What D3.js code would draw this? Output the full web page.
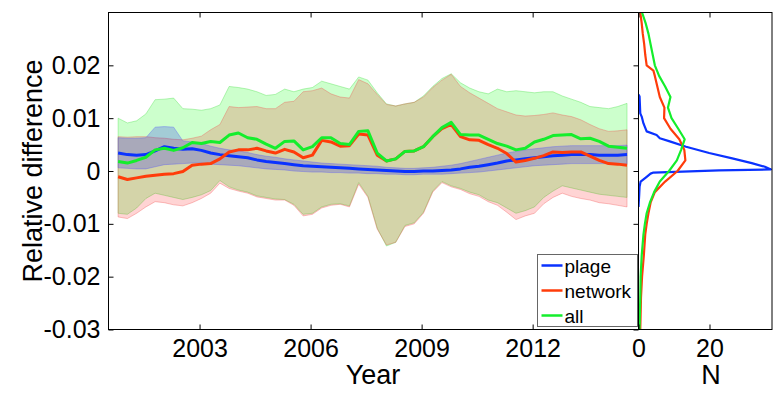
<!DOCTYPE html>
<html>
<head>
<meta charset="utf-8">
<script src="https://cdn.jsdelivr.net/npm/d3@7"></script>
<style>
  body { margin: 0; background: #fff; }
  text { font-family: "Liberation Sans", Arial, sans-serif; fill: #000; }
</style>
</head>
<body>
<svg id="chart" width="784" height="395"></svg>
<script>
// time grid (years) shared by all series in the left panel
const years = [2000.80, 2001.05, 2001.30, 2001.55, 2001.80, 2002.05, 2002.30, 2002.55, 2002.80, 2003.05,
  2003.30, 2003.55, 2003.80, 2004.05, 2004.30, 2004.55, 2004.80, 2005.05, 2005.30, 2005.55,
  2005.80, 2006.05, 2006.30, 2006.55, 2006.80, 2007.05, 2007.30, 2007.55, 2007.80, 2008.05,
  2008.30, 2008.55, 2008.80, 2009.05, 2009.30, 2009.55, 2009.80, 2010.05, 2010.30, 2010.55,
  2010.80, 2011.05, 2011.30, 2011.55, 2011.80, 2012.05, 2012.30, 2012.55, 2012.80, 2013.05,
  2013.30, 2013.55, 2013.80, 2014.05, 2014.30, 2014.55];

const plage = [0.0034, 0.0031, 0.0030, 0.0031, 0.0038, 0.0046, 0.0043, 0.0041, 0.0042, 0.0039,
  0.0034, 0.0031, 0.0029, 0.0027, 0.0025, 0.0021, 0.0018, 0.0016, 0.0014, 0.0012,
  0.0010, 0.0009, 0.0008, 0.0007, 0.0006, 0.0005, 0.0004, 0.0003, 0.0002, 0.0001,
  0.0000, -0.0001, -0.0001, 0.0000, 0.0000, 0.0001, 0.0002, 0.0004, 0.0007, 0.0009,
  0.0012, 0.0015, 0.0019, 0.0021, 0.0023, 0.0025, 0.0027, 0.0029, 0.0030, 0.0031,
  0.0031, 0.0031, 0.0030, 0.0030, 0.0030, 0.0031];
const plageHi = [0.0063, 0.0062, 0.0062, 0.0063, 0.0083, 0.0084, 0.0083, 0.0057, 0.0055, 0.0052,
  0.0047, 0.0043, 0.0040, 0.0038, 0.0035, 0.0031, 0.0028, 0.0026, 0.0023, 0.0021,
  0.0019, 0.0017, 0.0015, 0.0014, 0.0013, 0.0012, 0.0011, 0.0010, 0.0009, 0.0007,
  0.0006, 0.0005, 0.0005, 0.0006, 0.0007, 0.0009, 0.0011, 0.0014, 0.0018, 0.0022,
  0.0026, 0.0030, 0.0034, 0.0037, 0.0040, 0.0042, 0.0044, 0.0046, 0.0047, 0.0048,
  0.0048, 0.0048, 0.0048, 0.0048, 0.0048, 0.0049];
const plageLo = [0.0006, 0.0005, 0.0004, 0.0004, 0.0008, 0.0012, 0.0013, 0.0014, 0.0015, 0.0015,
  0.0013, 0.0012, 0.0011, 0.0010, 0.0008, 0.0006, 0.0004, 0.0003, 0.0002, 0.0000,
  -0.0001, -0.0002, -0.0002, -0.0003, -0.0003, -0.0004, -0.0004, -0.0005, -0.0005, -0.0006,
  -0.0006, -0.0007, -0.0007, -0.0006, -0.0006, -0.0006, -0.0005, -0.0004, -0.0003, -0.0002,
  0.0000, 0.0002, 0.0004, 0.0006, 0.0008, 0.0010, 0.0011, 0.0012, 0.0013, 0.0014,
  0.0014, 0.0014, 0.0014, 0.0014, 0.0014, 0.0014];

const network = [-0.0011, -0.0016, -0.0013, -0.0010, -0.0008, -0.0006, -0.0005, -0.0001, 0.0011, 0.0013,
  0.0014, 0.0023, 0.0036, 0.0040, 0.0040, 0.0043, 0.0038, 0.0034, 0.0041, 0.0036,
  0.0025, 0.0030, 0.0058, 0.0055, 0.0047, 0.0048, 0.0070, 0.0068, 0.0030, 0.0019,
  0.0023, 0.0037, 0.0038, 0.0046, 0.0065, 0.0080, 0.0088, 0.0065, 0.0059, 0.0058,
  0.0050, 0.0043, 0.0033, 0.0017, 0.0020, 0.0024, 0.0029, 0.0036, 0.0035, 0.0036,
  0.0036, 0.0028, 0.0020, 0.0014, 0.0013, 0.0011];
const networkHi = [0.0065, 0.0064, 0.0065, 0.0065, 0.0063, 0.0062, 0.0060, 0.0059, 0.0062, 0.0066,
  0.0078, 0.0088, 0.0122, 0.0120, 0.0121, 0.0122, 0.0118, 0.0118, 0.0130, 0.0132,
  0.0150, 0.0152, 0.0157, 0.0146, 0.0140, 0.0138, 0.0173, 0.0165, 0.0145, 0.0126,
  0.0123, 0.0127, 0.0130, 0.0140, 0.0158, 0.0172, 0.0183, 0.0160, 0.0148, 0.0138,
  0.0128, 0.0118, 0.0112, 0.0106, 0.0104, 0.0105, 0.0107, 0.0110, 0.0106, 0.0103,
  0.0097, 0.0088, 0.0080, 0.0075, 0.0076, 0.0078];
const networkLo = [-0.0087, -0.0090, -0.0080, -0.0068, -0.0058, -0.0060, -0.0064, -0.0066, -0.0060, -0.0052,
  -0.0042, -0.0023, -0.0033, -0.0038, -0.0042, -0.0049, -0.0052, -0.0055, -0.0055, -0.0065,
  -0.0085, -0.0082, -0.0070, -0.0065, -0.0063, -0.0068, -0.0025, -0.0050, -0.0110, -0.0140,
  -0.0135, -0.0105, -0.0100, -0.0080, -0.0040, -0.0022, -0.0030, -0.0035, -0.0043, -0.0048,
  -0.0058, -0.0065, -0.0078, -0.0092, -0.0085, -0.0080, -0.0062, -0.0050, -0.0042, -0.0048,
  -0.0052, -0.0055, -0.0060, -0.0062, -0.0065, -0.0068];

const all = [0.0018, 0.0015, 0.0020, 0.0026, 0.0040, 0.0043, 0.0039, 0.0044, 0.0054, 0.0052,
  0.0056, 0.0054, 0.0068, 0.0072, 0.0063, 0.0060, 0.0051, 0.0043, 0.0056, 0.0057,
  0.0040, 0.0046, 0.0063, 0.0063, 0.0052, 0.0050, 0.0075, 0.0076, 0.0034, 0.0019,
  0.0023, 0.0037, 0.0038, 0.0046, 0.0065, 0.0082, 0.0092, 0.0069, 0.0068, 0.0068,
  0.0060, 0.0052, 0.0047, 0.0040, 0.0043, 0.0055, 0.0060, 0.0067, 0.0068, 0.0069,
  0.0061, 0.0062, 0.0056, 0.0047, 0.0045, 0.0043];
const allHi = [0.0100, 0.0091, 0.0095, 0.0108, 0.0135, 0.0136, 0.0138, 0.0118, 0.0117, 0.0115,
  0.0118, 0.0125, 0.0160, 0.0158, 0.0155, 0.0150, 0.0143, 0.0145, 0.0155, 0.0150,
  0.0155, 0.0158, 0.0170, 0.0165, 0.0160, 0.0155, 0.0178, 0.0172, 0.0148, 0.0127,
  0.0123, 0.0127, 0.0130, 0.0142, 0.0160, 0.0175, 0.0184, 0.0167, 0.0157, 0.0150,
  0.0146, 0.0155, 0.0150, 0.0152, 0.0150, 0.0148, 0.0150, 0.0150, 0.0142, 0.0136,
  0.0130, 0.0122, 0.0120, 0.0118, 0.0122, 0.0128];
const allLo = [-0.0080, -0.0082, -0.0070, -0.0052, -0.0042, -0.0046, -0.0050, -0.0054, -0.0050, -0.0045,
  -0.0037, -0.0018, -0.0030, -0.0036, -0.0040, -0.0047, -0.0050, -0.0053, -0.0054, -0.0063,
  -0.0082, -0.0080, -0.0068, -0.0063, -0.0062, -0.0066, -0.0022, -0.0048, -0.0108, -0.0142,
  -0.0135, -0.0103, -0.0098, -0.0078, -0.0038, -0.0020, -0.0028, -0.0033, -0.0040, -0.0045,
  -0.0055, -0.0060, -0.0070, -0.0080, -0.0075, -0.0068, -0.0050, -0.0038, -0.0028, -0.0032,
  -0.0036, -0.0040, -0.0044, -0.0046, -0.0048, -0.0050];

// right panel: distributions (relative difference -> N)
const plageBins = [0.0145, 0.0141, 0.0109, 0.0103, 0.0090, 0.0075, 0.0068, 0.0062, 0.0056, 0.0046,
  0.0034, 0.0024, 0.0015, 0.0008, 0.0003, 0.0001, -0.0003, -0.0005, -0.0011, -0.0020,
  -0.0030, -0.0045, -0.0068];
const plageN = [0, 0.3, 0.5, 0.9, 1.4, 2.3, 5.1, 6.0, 8.8, 13.4,
  19.9, 26.4, 31.9, 35.6, 37.3, 22.7, 4.2, 3.4, 2.3, 0.6,
  0.3, 0.2, 0];

const distBins = [0.030, 0.028, 0.026, 0.024, 0.022, 0.020, 0.019, 0.018, 0.016, 0.014,
  0.012, 0.010, 0.008, 0.006, 0.004, 0.002, 0.000, -0.002, -0.004, -0.006,
  -0.008, -0.010, -0.012, -0.016, -0.020, -0.024, -0.030];
const networkN = [0.5, 0.9, 1.2, 1.6, 1.9, 2.3, 4.2, 4.6, 5.3, 6.0,
  7.3, 7.2, 9.0, 11.5, 12.9, 13.2, 11.0, 7.5, 4.6, 3.4,
  2.8, 2.3, 1.9, 1.5, 1.0, 0.7, 0.5];
const allN = [1.0, 2.0, 2.8, 3.4, 4.0, 4.6, 5.2, 5.8, 7.5, 9.0,
  8.3, 9.3, 11.2, 13.0, 12.0, 10.8, 8.6, 6.0, 4.4, 3.2,
  2.3, 1.8, 1.4, 0.9, 0.6, 0.5, 0.3];

const yearTicks = [2003, 2006, 2009, 2012];
const yTicks = [-0.03, -0.02, -0.01, 0, 0.01, 0.02];
const nTicks = [0, 20];
const seriesNames = ["plage", "network", "all"];
const colors = ["#0a32ff", "#ff3c0a", "#14ee2c"];

var svg = d3.select("#chart");

var x = d3.scaleLinear().domain([2000.54, 2014.86]).range([108.5, 638.5]),
  y = d3.scaleLinear().domain([-0.03, 0.03]).range([329.5, 12.5]),
  n = d3.scaleLinear().domain([0, 37.6]).range([638.5, 772]);

var defs = svg.append("defs");
defs.append("clipPath").attr("id", "clipL").append("rect")
  .attr("x", 108.5).attr("y", 12.5).attr("width", 530).attr("height", 317);
defs.append("clipPath").attr("id", "clipR").append("rect")
  .attr("x", 638.5).attr("y", 12.5).attr("width", 133.5).attr("height", 317);

// ---- left panel ----
var gL = svg.append("g").attr("clip-path", "url(#clipL)");

var bands = [
  { hi: allHi, lo: allLo, fill: "rgba(0,255,0,0.2)", edge: "rgba(60,220,60,0.35)" },
  { hi: networkHi, lo: networkLo, fill: "rgba(255,0,0,0.17)", edge: "rgba(240,80,80,0.35)" },
  { hi: plageHi, lo: plageLo, fill: "rgba(0,0,255,0.2)", edge: "rgba(80,80,255,0.35)" }
];

var area = d3.area()
  .x((d) => x(d.t))
  .y0((d) => y(d.lo))
  .y1((d) => y(d.hi));

bands.forEach((b) => {
  var pts = years.map((t, i) => ({ t: t, hi: b.hi[i], lo: b.lo[i] }));
  gL.append("path").attr("d", area(pts))
    .attr("fill", b.fill)
    .attr("stroke", b.edge)
    .attr("stroke-width", 1);
});

var line = d3.line().x((d) => x(d[0])).y((d) => y(d[1]));
[plage, network, all].forEach((s, k) => {
  gL.append("path")
    .attr("d", line(years.map((t, i) => [t, s[i]])))
    .attr("fill", "none")
    .attr("stroke", colors[k])
    .attr("stroke-width", 3)
    .attr("stroke-linejoin", "round");
});

// axes of left panel
var fmt = (d) => (d === 0 ? "0" : String(+d.toFixed(2)));

function styleAxis(g) {
  g.select(".domain").remove();
  g.selectAll(".tick line").attr("stroke", "#000");
  g.selectAll("text").attr("font-size", 25).attr("fill", "#000");
}

svg.append("g").attr("transform", "translate(0,329.5)")
  .call(d3.axisBottom(x).tickValues(yearTicks).tickSize(-5).tickPadding(10).tickFormat(d3.format("d")))
  .call(styleAxis);
svg.append("g").attr("transform", "translate(0,12.5)")
  .call(d3.axisTop(x).tickValues(yearTicks).tickSize(-5).tickFormat(""))
  .call(styleAxis);
svg.append("g").attr("transform", "translate(108.5,0)")
  .call(d3.axisLeft(y).tickValues(yTicks).tickSize(-5).tickPadding(8).tickFormat(fmt))
  .call(styleAxis);
svg.append("g").attr("transform", "translate(638.5,0)")
  .call(d3.axisRight(y).tickValues(yTicks).tickSize(-5).tickFormat(""))
  .call(styleAxis);

svg.append("rect").attr("x", 108.5).attr("y", 12.5).attr("width", 530).attr("height", 317)
  .attr("fill", "none").attr("stroke", "#000");

// ---- right panel ----
var gR = svg.append("g").attr("clip-path", "url(#clipR)");
var hline = d3.line().x((d) => n(d[1])).y((d) => y(d[0]));
[[plageBins, plageN], [distBins, networkN], [distBins, allN]].forEach((p, k) => {
  gR.append("path")
    .attr("d", hline(p[0].map((v, i) => [v, p[1][i]])))
    .attr("fill", "none")
    .attr("stroke", colors[k])
    .attr("stroke-width", 2.2)
    .attr("stroke-linejoin", "round");
});

svg.append("g").attr("transform", "translate(0,329.5)")
  .call(d3.axisBottom(n).tickValues(nTicks).tickSize(-5).tickPadding(10))
  .call(styleAxis);
svg.append("g").attr("transform", "translate(0,12.5)")
  .call(d3.axisTop(n).tickValues(nTicks).tickSize(-5).tickFormat(""))
  .call(styleAxis);
svg.append("rect").attr("x", 638.5).attr("y", 12.5).attr("width", 133.5).attr("height", 317)
  .attr("fill", "none").attr("stroke", "#000");

// axis titles
svg.append("text").attr("x", 373).attr("y", 384).attr("text-anchor", "middle")
  .attr("font-size", 27).text("Year");
svg.append("text").attr("x", 711).attr("y", 384).attr("text-anchor", "middle")
  .attr("font-size", 27).text("N");
svg.append("text").attr("transform", "translate(42,171) rotate(-90)")
  .attr("text-anchor", "middle").attr("font-size", 27).text("Relative difference");

// legend
var lg = svg.append("g").attr("transform", "translate(537.5,254.5)");
lg.append("rect").attr("width", 100).attr("height", 72)
  .attr("fill", "#fff").attr("stroke", "#666").attr("stroke-width", 1);
seriesNames.forEach((name, k) => {
  var yy = 11 + k * 25;
  lg.append("line").attr("x1", 4).attr("x2", 25).attr("y1", yy).attr("y2", yy)
    .attr("stroke", colors[k]).attr("stroke-width", 2.5);
  lg.append("text").attr("x", 27).attr("y", yy + 7).attr("font-size", 19).text(name);
});
</script>
</body>
</html>
